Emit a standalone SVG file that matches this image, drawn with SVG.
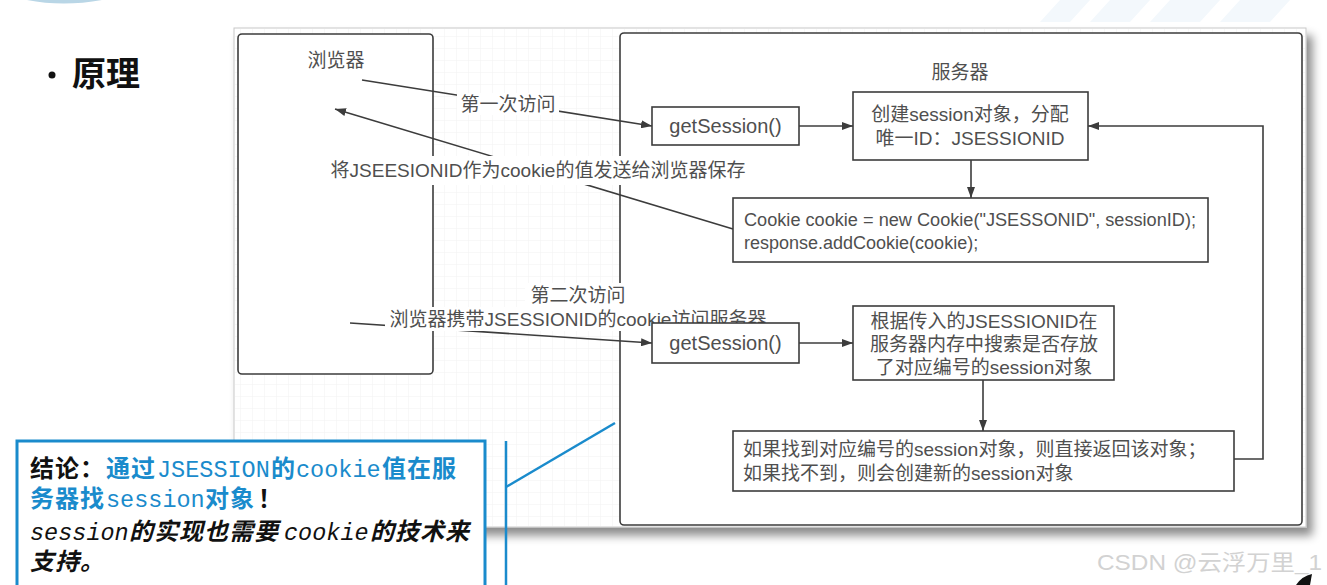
<svg xmlns="http://www.w3.org/2000/svg" width="1327" height="585" viewBox="0 0 1327 585">
<defs>
<style>
.t{font-family:"Liberation Sans","Noto Sans CJK SC",sans-serif;font-size:19px;fill:#4f4f4f}
.box{fill:#fff;stroke:#3c3c3c;stroke-width:1.6}
.ln{fill:none;stroke:#3c3c3c;stroke-width:1.6}
.bg{fill:#fff}
.c{font-family:"Noto Sans CJK SC",sans-serif;font-weight:700;font-size:24px;letter-spacing:1px;fill:#111}
.m{font-family:"Liberation Mono","DejaVu Sans Mono",monospace;font-weight:400;font-size:23.5px;letter-spacing:0}
.b{fill:#1a8bcc}
.k{fill:#111}
.i{font-style:italic}
</style>
<marker id="ah" markerWidth="11" markerHeight="8" refX="11" refY="4" orient="auto" markerUnits="userSpaceOnUse"><path d="M0,0 L11,4 L0,8 z" fill="#3c3c3c"/></marker>
<pattern id="grid" width="12" height="12" patternUnits="userSpaceOnUse"><path d="M12 0H0V12" fill="none" stroke="#f1f1f1" stroke-width="1"/></pattern>
<filter id="sh" x="-5%" y="-5%" width="115%" height="120%"><feDropShadow dx="6" dy="8" stdDeviation="5" flood-color="#000" flood-opacity="0.45"/></filter>
</defs>
<rect width="1327" height="585" fill="#fff"/>
<!-- decorations -->
<path d="M27,0 Q63,7 102,0 Z" fill="#b9d6e6"/>
<path d="M1060,0 L1090,0 L1070,22 L1040,22 Z M1110,0 L1150,0 L1130,22 L1090,22 Z M1170,0 L1220,0 L1200,22 L1150,22 Z M1240,0 L1290,0 L1270,22 L1220,22 Z" fill="#f3f8fc"/>
<!-- panel -->
<rect x="234" y="28" width="1072" height="499" fill="#fff" stroke="#c8c8c8" stroke-width="1" filter="url(#sh)"/>
<rect x="235" y="29" width="1070" height="497" fill="url(#grid)"/>
<!-- title -->
<g id="title">
<circle cx="52" cy="75" r="3.5" fill="#111"/>
<text x="72" y="86" style="font-family:'Noto Sans CJK SC',sans-serif;font-weight:700;font-size:34px;fill:#111">原理</text>
</g>
<!-- containers -->
<g id="browser">
<rect class="box" x="238" y="34" width="195" height="340" rx="4"/>
<text class="t" x="336" y="67" text-anchor="middle">浏览器</text>
</g>
<g id="server">
<rect class="box" x="620" y="33" width="682" height="492" rx="4"/>
<text class="t" x="960" y="79" text-anchor="middle">服务器</text>
</g>
<!-- connectors -->
<g id="connectors">
<line class="ln" x1="362" y1="80" x2="652" y2="126" marker-end="url(#ah)"/>
<rect class="bg" x="457" y="93" width="102" height="22"/>
<text class="t" x="508" y="111" text-anchor="middle">第一次访问</text>
<line class="ln" x1="733" y1="229" x2="335" y2="109" marker-end="url(#ah)"/>
<rect class="bg" x="326" y="156" width="424" height="29"/>
<text class="t" x="538" y="177" text-anchor="middle">将JSEESIONID作为cookie的值发送给浏览器保存</text>
<line class="ln" x1="350" y1="323" x2="652" y2="343" marker-end="url(#ah)"/>
<rect class="bg" x="525" y="283" width="106" height="24"/>
<rect class="bg" x="385" y="307" width="388" height="24"/>
<text class="t" x="578" y="302" text-anchor="middle">第二次访问</text>
<text class="t" x="578" y="326" text-anchor="middle">浏览器携带JSESSIONID的cookie访问服务器</text>
<line class="ln" x1="799" y1="126" x2="853" y2="126" marker-end="url(#ah)"/>
<line class="ln" x1="971" y1="160" x2="971" y2="198" marker-end="url(#ah)"/>
<line class="ln" x1="799" y1="343" x2="853" y2="343" marker-end="url(#ah)"/>
<line class="ln" x1="983" y1="380" x2="983" y2="431" marker-end="url(#ah)"/>
<path class="ln" d="M1234,459 H1263 V126 H1088" marker-end="url(#ah)"/>
</g>
<!-- nodes -->
<g id="getSession1">
<rect class="box" x="652" y="107" width="147" height="38"/>
<text class="t" x="725.5" y="133" text-anchor="middle" style="font-size:20px">getSession()</text>
</g>
<g id="createSession">
<rect class="box" x="853" y="92" width="235" height="68"/>
<text class="t" x="970" y="121" text-anchor="middle">创建session对象，分配</text>
<text class="t" x="970" y="145" text-anchor="middle">唯一ID：JSESSIONID</text>
</g>
<g id="addCookie">
<rect class="box" x="733" y="198" width="475" height="64"/>
<text class="t" x="744" y="226" style="font-size:18px" textLength="452" lengthAdjust="spacingAndGlyphs">Cookie cookie = new Cookie("JSESSONID", sessionID);</text>
<text class="t" x="744" y="249" style="font-size:18px">response.addCookie(cookie);</text>
</g>
<g id="getSession2">
<rect class="box" x="652" y="323" width="147" height="40"/>
<text class="t" x="725.5" y="350" text-anchor="middle" style="font-size:20px">getSession()</text>
</g>
<g id="search">
<rect class="box" x="853" y="306" width="261" height="74"/>
<text class="t" x="984" y="328" text-anchor="middle">根据传入的JSESSIONID在</text>
<text class="t" x="984" y="351" text-anchor="middle">服务器内存中搜索是否存放</text>
<text class="t" x="984" y="374" text-anchor="middle">了对应编号的session对象</text>
</g>
<g id="result">
<rect class="box" x="733" y="431" width="501" height="60"/>
<text class="t" x="743" y="456">如果找到对应编号的session对象，则直接返回该对象；</text>
<text class="t" x="743" y="480">如果找不到，则会创建新的session对象</text>
</g>
<!-- conclusion callout -->
<g id="conclusion">
<line x1="506" y1="441" x2="506" y2="585" stroke="#1a8bcc" stroke-width="2.5"/>
<line x1="506" y1="487" x2="615" y2="423" stroke="#1a8bcc" stroke-width="2.5"/>
<rect x="17" y="441" width="468" height="150" fill="#fff" stroke="#1a8bcc" stroke-width="3"/>
<text class="c" y="477"><tspan x="30">结论：</tspan><tspan x="106" class="b">通过</tspan><tspan x="157" class="m b">JSESSION</tspan><tspan x="271" class="b">的</tspan><tspan x="296" class="m b">cookie</tspan><tspan x="382" class="b">值在服</tspan></text>
<text class="c" y="507"><tspan x="30" class="b">务器找</tspan><tspan x="106" class="m b">session</tspan><tspan x="205" class="b">对象</tspan><tspan x="258">！</tspan></text>
<text class="c i" y="540"><tspan x="30" class="m k">session</tspan><tspan x="129">的实现也需要</tspan><tspan x="284" class="m k">cookie</tspan><tspan x="370">的技术来</tspan></text>
<text class="c i" y="570"><tspan x="30">支持。</tspan></text>
</g>
<text x="1097" y="570" textLength="225" lengthAdjust="spacingAndGlyphs" style="font-family:'Liberation Sans','Noto Sans CJK SC',sans-serif;font-size:22px;fill:#d2d2d2">CSDN @云浮万里_1</text>
<path d="M1296,585 Q1302,576 1312,574 L1310,585 Z" fill="#111"/>
</svg>
